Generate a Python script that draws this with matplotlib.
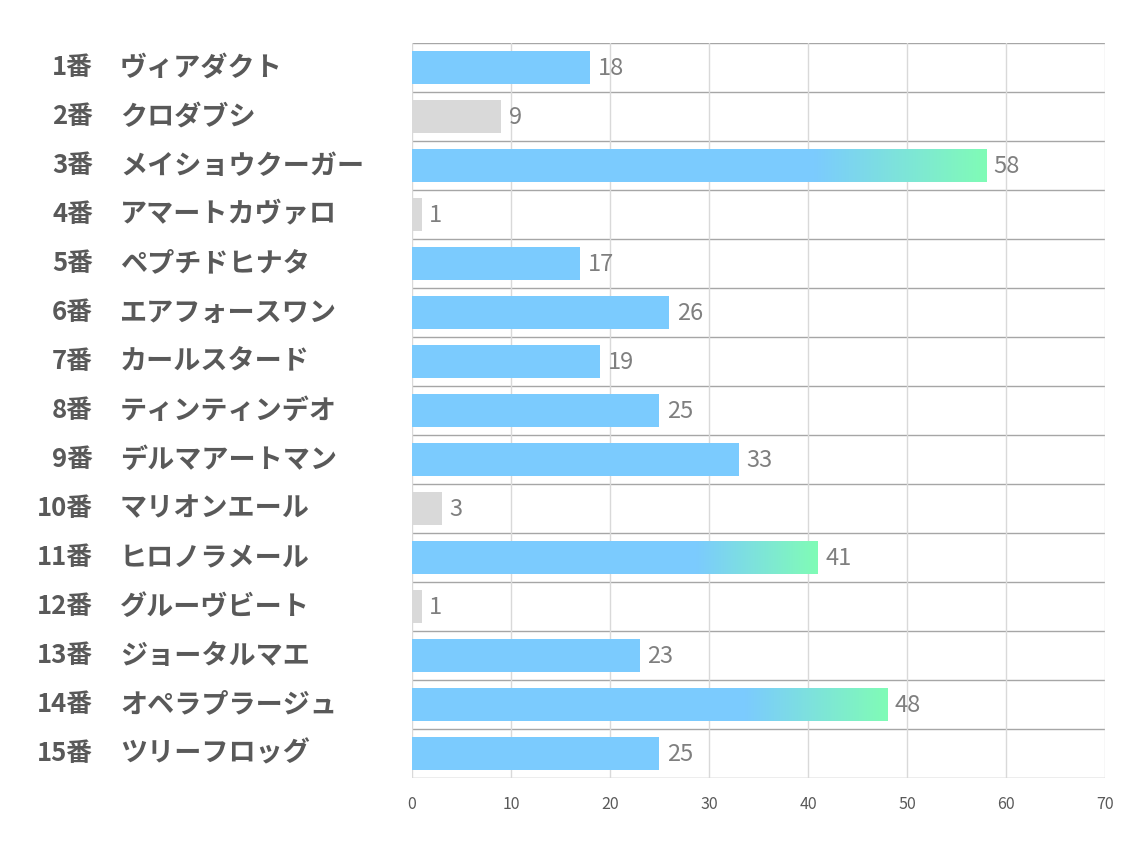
import numpy as np
import matplotlib.pyplot as plt
from matplotlib.colors import LinearSegmentedColormap

plt.rcParams['font.family'] = ['Noto Sans CJK JP', 'DejaVu Sans']

# data
numbers = ["1番", "2番", "3番", "4番", "5番", "6番", "7番", "8番",
           "9番", "10番", "11番", "12番", "13番", "14番", "15番"]
names = ["ヴィアダクト", "クロダブシ", "メイショウクーガー", "アマートカヴァロ",
         "ペプチドヒナタ", "エアフォースワン", "カールスタード", "ティンティンデオ",
         "デルマアートマン", "マリオンエール", "ヒロノラメール", "グルーヴビート",
         "ジョータルマエ", "オペラプラージュ", "ツリーフロッグ"]
values = [18, 9, 58, 1, 17, 26, 19, 25, 33, 3, 41, 1, 23, 48, 25]
# bar style per horse: 0 = blue, 1 = grey, 2 = blue->green gradient
kind = [0, 1, 2, 1, 0, 0, 0, 0, 0, 1, 2, 1, 0, 2, 0]
xticks = [0, 10, 20, 30, 40, 50, 60, 70]

BLUE = "#7BCBFE"
GREEN = "#80FCB6"
GREY = "#D9D9D9"
TEXT = "#595959"

fig = plt.figure(figsize=(11.34, 8.5), dpi=100)
ax = fig.add_axes([0.3633, 0.0847, 0.6111, 0.8647])

y = np.arange(len(values))
h = 0.67
colors = [GREY if k == 1 else BLUE for k in kind]
ax.barh(y, values, height=h, color=colors, zorder=2)

cmap = LinearSegmentedColormap.from_list("bg", [BLUE, GREEN])
grad = np.linspace(0, 1, 256).reshape(1, -1)
for i, (v, k) in enumerate(zip(values, kind)):
    if k == 2:
        ax.imshow(grad, cmap=cmap, aspect="auto", zorder=3,
                  extent=[0.7 * v, v, i + h / 2, i - h / 2])

for i, v in enumerate(values):
    ax.text(v + 0.75, i + 0.03, str(v), va="center", ha="left", fontsize=17,
            color="#7F7F7F", zorder=4)

# row separators and vertical grid
for b in np.arange(-0.5, len(values), 1.0):
    ax.axhline(b, color="#A6A6A6", lw=1.0, zorder=1)
for t in xticks:
    ax.axvline(t, color="#D9D9D9", lw=1.0, zorder=1)

ax.set_xlim(0, 70)
ax.set_ylim(len(values) - 0.5, -0.5)
ax.set_xticks(xticks)
ax.set_yticks([])
ax.tick_params(axis="x", length=0, pad=13, labelsize=11.5, labelcolor=TEXT)
for s in ax.spines.values():
    s.set_visible(False)

tr = ax.get_yaxis_transform()
for i, (n, nm) in enumerate(zip(numbers, names)):
    ax.text(-0.4603, i, n, transform=tr, ha="right", va="center",
            fontsize=18.5, fontweight="bold", color=TEXT)
    ax.text(-0.4214, i, nm, transform=tr, ha="left", va="center",
            fontsize=19.5, fontweight="bold", color=TEXT)

fig.savefig("out.png", dpi=100)
